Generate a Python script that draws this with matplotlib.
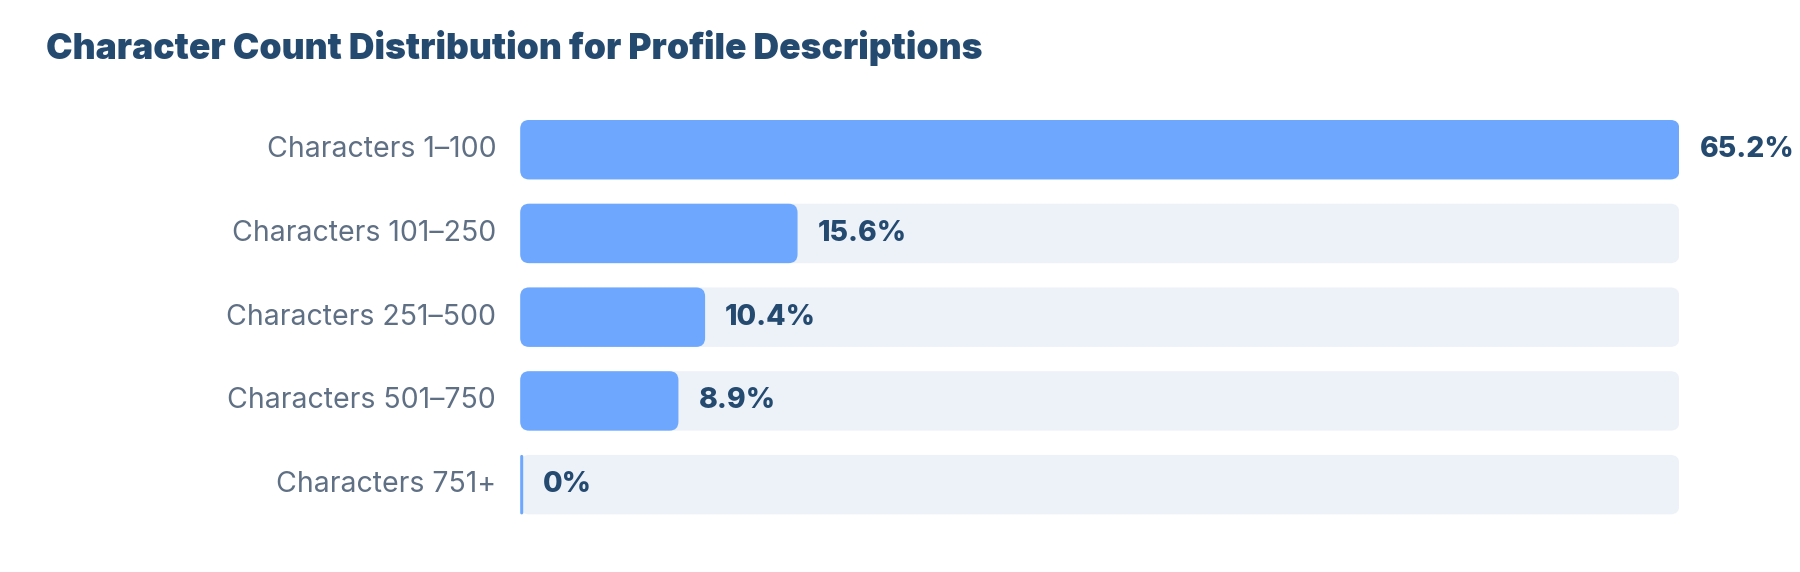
import matplotlib
matplotlib.use("Agg")
import matplotlib.pyplot as plt
from matplotlib.patches import FancyBboxPatch

categories = ["Characters 1–100", "Characters 101–250", "Characters 251–500", "Characters 501–750", "Characters 751+"]
values = [65.2, 15.6, 10.4, 8.9, 0]
labels = ["65.2%", "15.6%", "10.4%", "8.9%", "0%"]

plt.rcParams['font.family'] = ['Inter', 'DejaVu Sans']
W, H = 1800, 572
fig = plt.figure(figsize=(W/100, H/100), dpi=100)
left, right = 0.289, 0.933
bottom, top = 0.100, 0.791
ax = fig.add_axes([left, bottom, right-left, top-bottom])
xmax = max(values)
n = len(categories)
bh = 0.71
ax.set_xlim(0, xmax)
ax.set_ylim(n - 1 + bh/2 + 0.005, -bh/2 - 0.005)
ax.axis('off')

px_w = (right-left)*W
px_h = (top-bottom)*H
xu = xmax/px_w
yu = (n - 1 + bh + 0.01)/px_h
r = 9*xu
asp = yu/xu
for i, (v, lab) in enumerate(zip(values, labels)):
    ax.add_patch(FancyBboxPatch((0, i-bh/2), xmax, bh, boxstyle=f"round,pad=0,rounding_size={r}",
                                mutation_aspect=asp, fc="#edf2f9", ec="none"))
    w = max(v, 3*xu)
    ax.add_patch(FancyBboxPatch((0, i-bh/2), w, bh, boxstyle=f"round,pad=0,rounding_size={min(r, w/2)}",
                                mutation_aspect=asp, fc="#6ea8fe", ec="none"))
    ax.text(w + 20*xu, i, lab, va='center', ha='left', fontsize=20.5, fontweight='heavy', color="#254a70")
    ax.text(-24*xu, i, categories[i], va='center', ha='right', fontsize=20.5, color="#5f6f84")

fig.text(46/W, 1-48/H, "Character Count Distribution for Profile Descriptions", fontsize=25.5,
         fontweight='black', color="#254a70", va='center', ha='left')
fig.savefig("out.png", dpi=100, facecolor="white")
